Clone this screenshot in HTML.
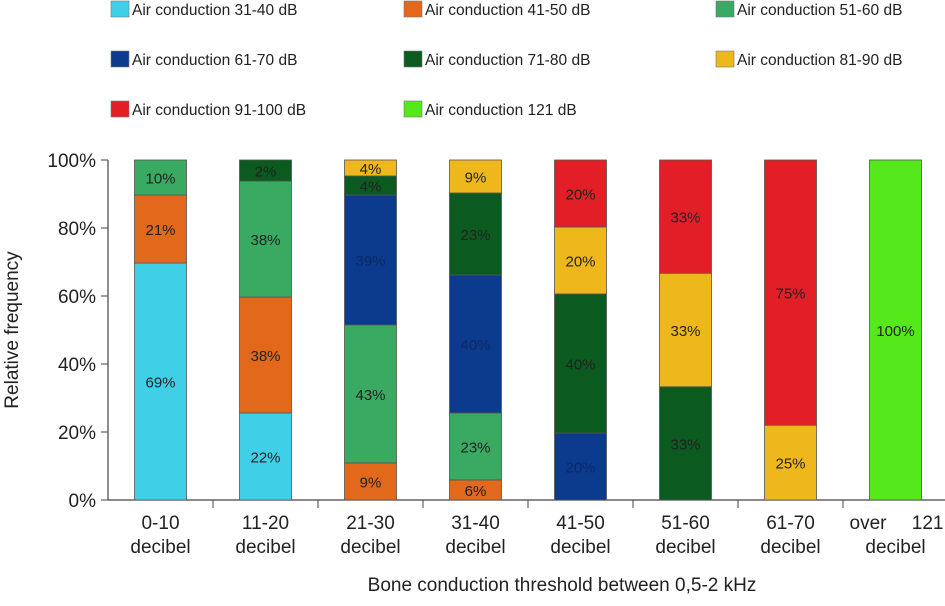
<!DOCTYPE html>
<html><head><meta charset="utf-8"><style>
body{margin:0;background:#fff;}
svg{font-family:"Liberation Sans",sans-serif;}
</style></head><body>
<svg id="c" width="945" height="601"></svg>
<script>
const categories=["0-10|decibel","11-20|decibel","21-30|decibel","31-40|decibel","41-50|decibel","51-60|decibel","61-70|decibel","over 121|decibel"];
const seriesNames=["Air conduction 31-40 dB","Air conduction 41-50 dB","Air conduction 51-60 dB","Air conduction 61-70 dB","Air conduction 71-80 dB","Air conduction 81-90 dB","Air conduction 91-100 dB","Air conduction 121 dB"];
const seriesColors=["#3fd0e8","#e2691c","#3aaa63","#0c3b8e","#0b5a1f","#eeb71c","#e21f26","#55e81a"];
const s3140=[69.7,25.6,0,0,0,0,0,0];
const s4150=[20,34.1,10.9,5.9,0,0,0,0];
const s5160=[10.3,34.1,40.6,19.7,0,0,0,0];
const s6170=[0,0,38.2,40.6,19.7,0,0,0];
const s7180=[0,6.2,5.6,24.1,40.9,33.3,0,0];
const s8190=[0,0,4.7,9.7,19.7,33.4,22,0];
const s91100=[0,0,0,0,19.7,33.3,78,0];
const s121=[0,0,0,0,0,0,0,100];
const labels3140=["69%","22%","","","","","",""];
const labels4150=["21%","38%","9%","6%","","","",""];
const labels5160=["10%","38%","43%","23%","","","",""];
const labels6170=["","","39%","40%","20%","","",""];
const labels7180=["","2%","4%","23%","40%","33%","",""];
const labels8190=["","","4%","9%","20%","33%","25%",""];
const labels91100=["","","","","20%","33%","75%",""];
const labels121=["","","","","","","","100%"];
const yTicks=[0,20,40,60,80,100];
const series=[s3140,s4150,s5160,s6170,s7180,s8190,s91100,s121];
const labs=[labels3140,labels4150,labels5160,labels6170,labels7180,labels8190,labels91100,labels121];
const NS="http://www.w3.org/2000/svg";
const svg=document.getElementById('c');
function mk(t,a,p){const e=document.createElementNS(NS,t);for(const k in a)e.setAttribute(k,a[k]);(p||svg).appendChild(e);return e;}
const x0=108,step=105,bw=52,yB=500,yT=160;
const y=v=>yB-(yB-yT)*v/100;
const xc=i=>x0+step*(i+0.5);
const legX=[111,404,716];
seriesNames.forEach((n,i)=>{
 const col=i%3,row=Math.floor(i/3);
 const lx=legX[col],ly=1+row*50;
 const g=mk('g',{});
 
 
 mk('rect',{x:lx,y:ly,width:18,height:16,fill:seriesColors[i],stroke:"#777","stroke-width":0.6},g);
 const t=mk('text',{x:lx+21,y:ly+14,"font-size":15.5,fill:"#222"},g);t.textContent=n;
});
const ya=mk('g',{});
mk('line',{x1:x0,y1:yT,x2:x0,y2:yB,stroke:"#444","stroke-width":1.2},ya);
yTicks.forEach(v=>{
 mk('line',{x1:x0-7,y1:y(v),x2:x0,y2:y(v),stroke:"#444"},ya);
 const t=mk('text',{x:x0-12,y:y(v)+7,"font-size":19,"text-anchor":"end",fill:"#222"},ya);t.textContent=v+"%";
});
const yt=mk('text',{x:18,y:330,"font-size":19,"text-anchor":"middle",fill:"#222",transform:"rotate(-90 18 330)"});
yt.textContent="Relative frequency";

const xa=mk('g',{});
mk('line',{x1:x0,y1:yB,x2:945,y2:yB,stroke:"#444","stroke-width":1.2},xa);
categories.forEach((c,i)=>{
 mk('line',{x1:x0+step*(i+1),y1:yB,x2:x0+step*(i+1),y2:yB+8,stroke:"#444"},xa);
 const p=c.split('|');
 const words=p[0].split(' ');
 if(words.length>1){
  const a=mk('text',{x:xc(i)-46,y:529,"font-size":19,fill:"#222"},xa);a.textContent=words[0];
  const b=mk('text',{x:xc(i)+48,y:529,"font-size":19,"text-anchor":"end",fill:"#222"},xa);b.textContent=words[1];
 } else {
  const t1=mk('text',{x:xc(i),y:529,"font-size":19,"text-anchor":"middle",fill:"#222"},xa);t1.textContent=p[0];
 }
 const t2=mk('text',{x:xc(i),y:553,"font-size":19,"text-anchor":"middle",fill:"#222"},xa);t2.textContent=p[1];
});
const xt=mk('text',{x:562,y:591,"font-size":19,"text-anchor":"middle",fill:"#222"});
xt.textContent="Bone conduction threshold between 0,5-2 kHz";

categories.forEach((c,i)=>{
 let cum=0;
 series.forEach((s,k)=>{
  const v=s[i];if(v<=0)return;
  const r=mk('rect',{x:xc(i)-bw/2,y:y(cum+v),width:bw,height:y(cum)-y(cum+v),fill:seriesColors[k],stroke:"#555","stroke-width":0.8});
  
  
  const L=labs[k][i];
  if(L){const t=mk('text',{x:xc(i),y:(y(cum)+y(cum+v))/2+6,"font-size":15,"text-anchor":"middle",fill:k===3?"#0a2a66":"#222"});t.textContent=L;
   }
  cum+=v;
 });
});
</script>
</body></html>
